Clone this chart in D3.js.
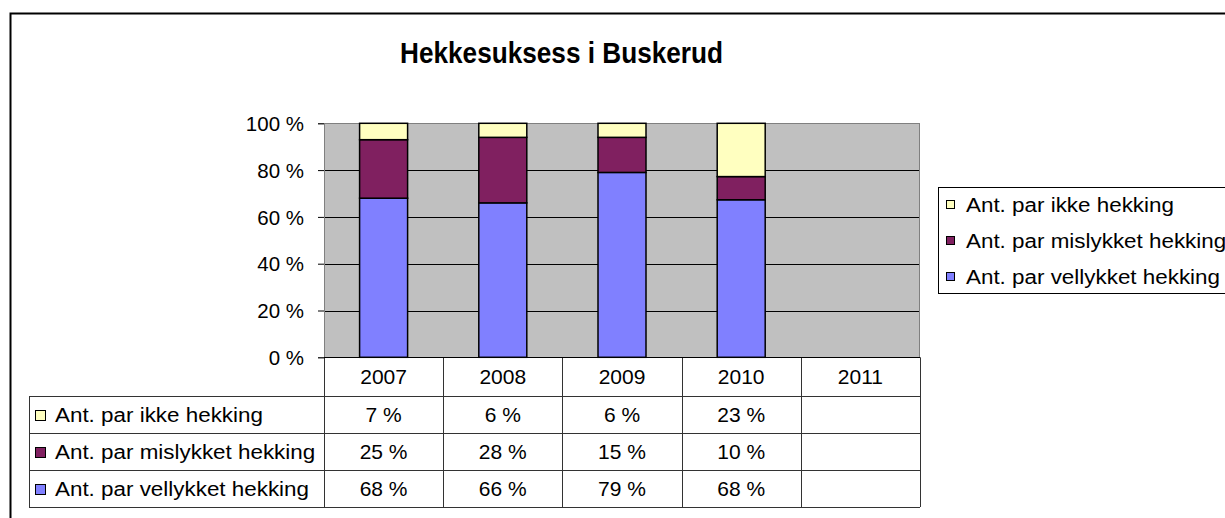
<!DOCTYPE html>
<html><head><meta charset="utf-8">
<script src="https://cdn.jsdelivr.net/npm/d3@7"></script>
<style>body{margin:0;background:#fff}svg{display:block;font-family:"Liberation Sans",Arial,sans-serif}</style>
</head><body>
<svg id="c" width="1225" height="518"></svg>
<script>
const title = "Hekkesuksess i Buskerud";
const years = ["2007","2008","2009","2010","2011"];
const seriesNames = ["Ant. par vellykket hekking","Ant. par mislykket hekking","Ant. par ikke hekking"];
const vellykket = [68, 66, 79, 68, null];
const mislykket = [25, 28, 15, 10, null];
const ikke      = [7, 6, 6, 23, null];
const yTicks = [0, 0.2, 0.4, 0.6, 0.8, 1];
const colors = ["#8080FF", "#802060", "#FFFFC0"];

const seriesVals = [vellykket, mislykket, ikke];
const rows = years.map((yr, i) => ({year: yr, s0: vellykket[i] || 0, s1: mislykket[i] || 0, s2: ikke[i] || 0}));

const svg = d3.select("#c");
const X0 = 324, X1 = 920, Y0 = 123.3, Y1 = 357.3;

function stretch(sel, k) {
  sel.each(function(){
    const w = this.getComputedTextLength();
    d3.select(this).attr("textLength", w*k).attr("lengthAdjust","spacingAndGlyphs");
  });
}

// outer frame
svg.append("rect").attr("x",10.5).attr("y",13.5).attr("width",1240).attr("height",520)
  .attr("fill","#fff").attr("stroke","#000").attr("stroke-width",2);

svg.append("text").attr("x",561.5).attr("y",63).attr("text-anchor","middle")
  .attr("font-size",30).attr("font-weight","bold").text(title)
  .attr("textLength",323).attr("lengthAdjust","spacingAndGlyphs");

const x = d3.scaleBand().domain(years).range([X0, X1]).paddingInner(0).paddingOuter(0);
const y = d3.scaleLinear().domain([0,1]).range([Y1, Y0]);
const barW = 48;

// plot background
svg.append("rect").attr("x",X0).attr("y",Y0).attr("width",X1-X0).attr("height",Y1-Y0)
  .attr("fill","#C0C0C0");
// gridlines
svg.append("g").selectAll("line").data(yTicks.filter(t => t > 0 && t < 1)).join("line")
  .attr("x1",X0).attr("x2",X1).attr("y1",d=>Math.round(y(d))+0.5).attr("y2",d=>Math.round(y(d))+0.5)
  .attr("stroke","#000").attr("stroke-width",1);
svg.append("rect").attr("x",X0+0.5).attr("y",Math.round(Y0)+0.5).attr("width",X1-X0-1).attr("height",Y1-Y0)
  .attr("fill","none").attr("stroke","#808080").attr("stroke-width",1);

// stacked bars
const stack = d3.stack().keys(["s0","s1","s2"]).offset(d3.stackOffsetExpand);
const stacked = stack(rows);
svg.append("g").selectAll("g").data(stacked).join("g")
  .attr("fill",(d,i)=>colors[i])
  .selectAll("rect").data(d=>d.filter(p => !isNaN(p[1]) && (p[1]-p[0])>0)).join("rect")
  .attr("x",d=>x(d.data.year)+(x.bandwidth()-barW)/2)
  .attr("y",d=>y(d[1]))
  .attr("width",barW)
  .attr("height",d=>y(d[0])-y(d[1]))
  .attr("stroke","#000").attr("stroke-width",1.5);

// y axis
const yAxis = d3.axisLeft(y).tickValues(yTicks).tickFormat(d=>Math.round(d*100)+" %").tickSize(6).tickPadding(14);
const ga = svg.append("g").attr("transform",`translate(${X0},0)`).call(yAxis);
ga.select(".domain").attr("stroke","#808080");
ga.selectAll(".tick line").attr("stroke","#000");
ga.selectAll(".tick text").attr("font-size",20.5).attr("font-family","Liberation Sans, Arial, sans-serif").attr("fill","#000").attr("dy","0.35em");

// data table
const headerTop = Y1, headerH = 38.7, rowH = 37;
const tableTop = headerTop + headerH;
const labX = 29;
const lineCol = "#333";
const tg = svg.append("g");
const bounds = years.map(yv => x(yv)).concat([X1]);
tg.selectAll("line.hv").data(bounds).join("line").attr("class","hv")
  .attr("x1",d=>Math.round(d)+0.5).attr("x2",d=>Math.round(d)+0.5)
  .attr("y1",headerTop).attr("y2",tableTop+rowH*3)
  .attr("stroke",lineCol);
tg.selectAll("line.rh").data(d3.range(4)).join("line").attr("class","rh")
  .attr("x1",labX).attr("x2",X1).attr("y1",d=>Math.round(tableTop+d*rowH)+0.5).attr("y2",d=>Math.round(tableTop+d*rowH)+0.5)
  .attr("stroke",lineCol);
tg.append("line").attr("x1",labX+0.5).attr("x2",labX+0.5).attr("y1",tableTop).attr("y2",tableTop+rowH*3).attr("stroke",lineCol);
tg.append("line").attr("x1",X0).attr("x2",X1).attr("y1",Math.round(Y1)+0.5).attr("y2",Math.round(Y1)+0.5).attr("stroke","#000");
tg.selectAll("text.yr").data(years).join("text").attr("class","yr")
  .attr("x",d=>x(d)+x.bandwidth()/2).attr("y",headerTop+headerH/2+7.5)
  .attr("text-anchor","middle").attr("font-size",21).text(d=>d);
const order = [2,1,0];
order.forEach((si, r) => {
  const top = tableTop + r*rowH;
  const base = top + rowH/2 + 7.5;
  tg.append("rect").attr("x",35.5).attr("y",base-11.5).attr("width",10).attr("height",10)
    .attr("fill",colors[si]).attr("stroke","#000").attr("stroke-width",1);
  tg.append("text").attr("x",55).attr("y",base).attr("font-size",20).text(seriesNames[si])
    .call(stretch, 1.12);
  tg.selectAll(null).data(years.map((yv,i)=>({yv, v: seriesVals[si][i]})).filter(d=>d.v!=null)).join("text")
    .attr("x",d=>x(d.yv)+x.bandwidth()/2).attr("y",base).attr("text-anchor","middle")
    .attr("font-size",21).text(d=>d.v+" %");
});

// legend
const lg = svg.append("g");
lg.append("rect").attr("x",938.5).attr("y",187.5).attr("width",320).attr("height",106)
  .attr("fill","#fff").attr("stroke","#000");
order.forEach((si, r) => {
  const base = 212 + r*36;
  lg.append("rect").attr("x",946.5).attr("y",base-11.5).attr("width",8).attr("height",8)
    .attr("fill",colors[si]).attr("stroke","#000");
  lg.append("text").attr("x",966).attr("y",base).attr("font-size",20).text(seriesNames[si])
    .call(stretch, 1.12);
});
</script>
</body></html>
